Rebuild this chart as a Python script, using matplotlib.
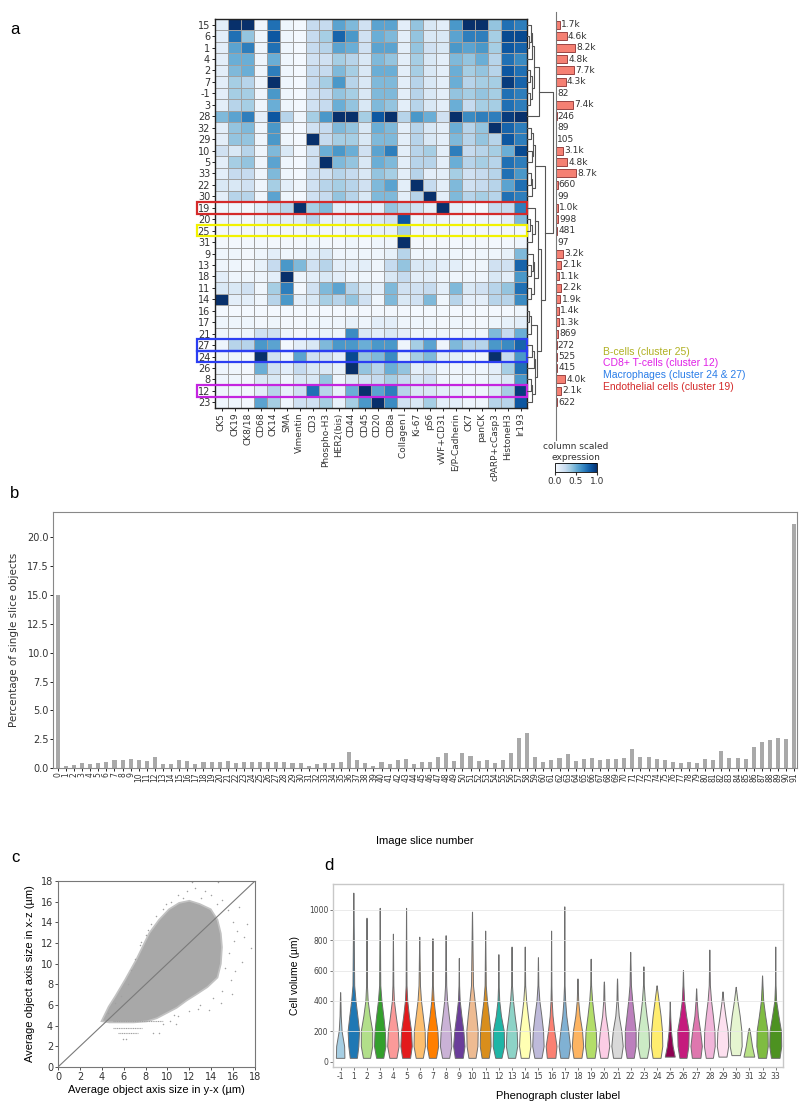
import numpy as np
import matplotlib.pyplot as plt
from matplotlib.patches import Rectangle
from matplotlib.colors import Normalize
import matplotlib.cm as cm

plt.rcParams['font.family'] = ['DejaVu Sans']

# ---------------- panel a : cluster x marker heatmap ----------------
row_labels = ['15', '6', '1', '4', '2', '7', '-1', '3', '28', '32', '29', '10', '5', '33', '22', '30',
              '19', '20', '25', '31', '9', '13', '18', '11', '14', '16', '17', '21', '27', '24', '26',
              '8', '12', '23']
markers = ['CK5', 'CK19', 'CK8/18', 'CD68', 'CK14', 'SMA', 'Vimentin', 'CD3', 'Phospho-H3',
           'HER2(bis)', 'CD44', 'CD45', 'CD20', 'CD8a', 'Collagen I', 'Ki-67', 'pS6', 'vWF+CD31',
           'E/P-Cadherin', 'CK7', 'panCK', 'cPARP+cCasp3', 'HistoneH3', 'Ir193']

expr = [
    [.10, 1.0, 1.0, .05, .75, .05, .02, .25, .25, .55, .45, .20, .55, .55, .10, .40, .15, .10, .60, 1.0, 1.0, .40, .75, .70],  # 15
    [.10, .75, .40, .05, .85, .05, .02, .25, .35, .80, .60, .20, .50, .45, .10, .40, .15, .15, .55, .70, .70, .35, .90, .90],  # 6
    [.10, .55, .70, .05, .75, .05, .02, .25, .30, .55, .50, .20, .55, .55, .10, .40, .20, .15, .60, .55, .60, .35, .85, .80],  # 1
    [.10, .50, .50, .05, .50, .05, .02, .20, .20, .35, .30, .15, .45, .40, .10, .35, .15, .10, .45, .40, .50, .30, .75, .65],  # 4
    [.10, .45, .50, .05, .70, .05, .02, .25, .25, .45, .35, .15, .50, .50, .10, .35, .15, .10, .50, .35, .40, .30, .85, .75],  # 2
    [.10, .35, .30, .05, 1.0, .05, .02, .25, .35, .60, .30, .15, .45, .45, .10, .30, .15, .10, .50, .30, .35, .35, .95, .80],  # 7
    [.10, .35, .35, .05, .60, .05, .02, .20, .25, .40, .35, .15, .45, .45, .10, .30, .15, .10, .40, .35, .40, .35, .75, .70],  # -1
    [.10, .30, .35, .05, .50, .05, .02, .20, .25, .50, .40, .15, .45, .40, .10, .30, .15, .10, .50, .25, .35, .35, .75, .70],  # 3
    [.45, .55, .70, .10, .85, .30, .05, .35, .60, 1.0, 1.0, .35, .85, 1.0, .30, .60, .50, .20, 1.0, .65, .70, .70, .95, 1.0],  # 28
    [.10, .40, .45, .05, .60, .05, .02, .20, .25, .45, .40, .15, .50, .45, .10, .30, .15, .10, .50, .30, .40, 1.0, .80, .70],  # 32
    [.10, .40, .40, .05, .60, .05, .02, 1.0, .25, .35, .35, .15, .45, .45, .10, .30, .15, .10, .45, .30, .40, .30, .85, .70],  # 29
    [.20, .15, .30, .05, .45, .15, .02, .20, .50, .60, .50, .20, .55, .70, .10, .30, .35, .10, .70, .25, .30, .35, .50, .90],  # 10
    [.10, .35, .40, .05, .55, .05, .02, .20, 1.0, .45, .40, .15, .50, .45, .10, .30, .30, .10, .50, .30, .35, .30, .75, .70],  # 5
    [.10, .25, .25, .05, .45, .05, .02, .20, .20, .30, .25, .15, .40, .35, .10, .30, .10, .10, .35, .20, .25, .30, .75, .60],  # 33
    [.15, .15, .20, .05, .35, .10, .05, .20, .30, .35, .30, .20, .45, .55, .10, 1.0, .25, .10, .45, .20, .25, .30, .55, .75],  # 22
    [.10, .30, .30, .05, .55, .05, .02, .20, .25, .40, .30, .15, .45, .45, .10, .30, 1.0, .10, .45, .30, .35, .30, .75, .70],  # 30
    [.05, .05, .03, .10, .25, .30, 1.0, .35, .45, .10, .10, .15, .10, .40, .30, .20, .10, 1.0, .10, .05, .03, .25, .25, .70],  # 19
    [.05, .05, .03, .08, .12, .10, .12, .30, .08, .10, .10, .10, .15, .20, .85, .05, .10, .05, .05, .03, .05, .05, .10, .45],  # 20
    [.03, .03, .03, .03, .03, .03, .03, .05, .03, .03, .05, .05, .08, .08, .35, .03, .03, .03, .03, .03, .03, .03, .03, .02],  # 25
    [.03, .03, .03, .03, .03, .03, .03, .05, .03, .03, .05, .03, .05, .05, 1.0, .03, .03, .03, .03, .03, .03, .03, .03, .05],  # 31
    [.05, .05, .03, .05, .10, .05, .05, .10, .15, .05, .05, .05, .05, .08, .30, .05, .05, .05, .05, .03, .05, .05, .08, .45],  # 9
    [.05, .05, .03, .08, .25, .60, .45, .20, .30, .10, .10, .10, .05, .25, .40, .15, .15, .10, .10, .05, .05, .20, .20, .80],  # 13
    [.10, .05, .05, .05, .10, 1.0, .05, .10, .15, .10, .05, .05, .03, .15, .25, .10, .10, .05, .05, .05, .05, .15, .10, .60],  # 18
    [.15, .15, .20, .05, .35, .70, .03, .20, .45, .55, .30, .15, .10, .45, .20, .20, .25, .10, .45, .15, .20, .30, .40, .75],  # 11
    [1.0, .10, .10, .05, .30, .60, .10, .15, .35, .30, .40, .20, .05, .45, .15, .20, .45, .05, .30, .10, .10, .30, .30, .65],  # 14
    [.02, .02, .02, .02, .02, .02, .02, .03, .02, .02, .03, .03, .03, .03, .03, .02, .02, .02, .02, .02, .02, .02, .02, .05],  # 16
    [.05, .05, .05, .03, .05, .03, .03, .05, .05, .05, .08, .05, .10, .10, .05, .05, .05, .03, .05, .03, .03, .05, .08, .10],  # 17
    [.05, .05, .05, .20, .20, .05, .03, .05, .08, .05, .65, .15, .10, .15, .10, .05, .05, .05, .05, .05, .05, .45, .25, .50],  # 21
    [.05, .30, .30, .60, .55, .03, .10, .15, .45, .60, .60, .50, .60, .60, .05, .35, .55, .05, .45, .30, .30, .60, .65, .80],  # 27
    [.05, .05, .03, 1.0, .20, .05, .55, .20, .20, .10, .90, .40, .45, .65, .10, .35, .45, .10, .10, .05, .05, 1.0, .25, .60],  # 24
    [.05, .05, .03, .50, .20, .10, .25, .15, .15, .08, 1.0, .40, .30, .50, .40, .10, .15, .05, .05, .05, .05, .10, .35, .75],  # 26
    [.05, .05, .03, .15, .15, .05, .15, .15, .40, .05, .15, .20, .25, .35, .25, .15, .20, .05, .05, .05, .05, .10, .15, .60],  # 8
    [.05, .05, .03, .10, .30, .08, .20, .75, .30, .08, .50, 1.0, .55, .70, .30, .15, .15, .10, .10, .05, .05, .15, .35, .95],  # 12
    [.05, .05, .03, .55, .35, .05, .20, .20, .35, .08, .35, .60, 1.0, .65, .20, .15, .35, .10, .10, .05, .05, .30, .30, .85],  # 23
]

cluster_counts = [1700, 4600, 8200, 4800, 7700, 4300, 82, 7400, 246, 89, 105, 3100, 4800, 8700, 660, 99,
                  1000, 998, 481, 97, 3200, 2100, 1100, 2200, 1900, 1400, 1300, 869, 272, 525, 415,
                  4000, 2100, 622]

# highlighted clusters: (row label, box colour)
highlight_rows = [('19', '#d42a2a'), ('25', '#f2f200'), ('27', '#2b3ef2'), ('24', '#2b3ef2'), ('12', '#c424e0')]
legend_items = [('B-cells (cluster 25)', '#b0b021'),
                ('CD8+ T-cells (cluster 12)', '#e020e6'),
                ('Macrophages (cluster 24 & 27)', '#2a7de8'),
                ('Endothelial cells (cluster 19)', '#d42a2a')]

# dendrogram as nested (left, right, height), leaves are row positions
top8 = (((0, (1, 2, .08), .14), 3, .20), ((4, 5, .12), (6, 7, .10), .18), .26)
grp_a = (top8, 8, .45)
grp_mid = (((9, 10, .15), (11, 12, .18), .24), ((13, 14, .14), 15, .20), .30)
g1 = (16, ((17, 18, .12), 19, .20), .30)
g2 = ((20, (21, 22, .15), .22), (23, 24, .14), .28)
g3 = ((25, 26, .06), 27, .16)
g4 = (((28, 29, .20), 30, .25), ((31, 32, .15), 33, .20), .30)
grp_low = ((g1, g2, .42), (g3, g4, .38), .55)
dendro = (grp_a, (grp_mid, grp_low, .70), 1.0)

# ---------------- panel b : single slice objects ----------------
slice_ids = list(range(92))
single_pct = [15.0, 0.15, 0.3, 0.4, 0.37, 0.4, 0.55, 0.72, 0.66, 0.77, 0.66, 0.64, 0.96, 0.37, 0.37, 0.72,
              0.58, 0.32, 0.5, 0.56, 0.5, 0.6, 0.42, 0.53, 0.48, 0.48, 0.5, 0.48, 0.48, 0.42, 0.45, 0.16,
              0.32, 0.4, 0.4, 0.56, 1.36, 0.66, 0.4, 0.16, 0.56, 0.35, 0.66, 0.77, 0.37, 0.56, 0.56, 0.98,
              1.31, 0.61, 1.26, 1.04, 0.61, 0.66, 0.42, 0.66, 1.34, 2.63, 3.07, 0.98, 0.56, 0.69, 0.85,
              1.2, 0.61, 0.8, 0.86, 0.72, 0.77, 0.77, 0.86, 1.65, 0.94, 0.94, 0.82, 0.69, 0.56, 0.4, 0.56,
              0.42, 0.82, 0.72, 1.47, 0.9, 0.9, 0.8, 1.8, 2.22, 2.4, 2.57, 2.53, 21.15]

# ---------------- panel c : axis size scatter ----------------
cloud_x = [4.1, 4.7, 5.3, 6.2, 7.2, 7.8, 8.4, 9.3, 10.2, 11.1, 12.0, 12.9, 13.9, 14.5, 14.8, 14.9,
           14.8, 14.5, 13.6, 12.6, 11.7, 10.8, 9.9, 9.0, 8.1, 6.9, 4.7]
cloud_y = [4.5, 5.8, 6.8, 8.4, 10.3, 11.6, 12.9, 14.2, 15.2, 15.8, 16.0, 15.7, 15.2, 14.2, 12.9, 11.6,
           10.0, 8.7, 7.8, 7.1, 6.5, 5.8, 5.3, 4.8, 4.5, 4.4, 4.4]
sparse_x = [7.0, 7.5, 8.0, 8.5, 9.0, 9.6, 10.3, 11.0, 11.8, 12.5, 13.4, 14.0, 12.2, 14.6, 15.0, 15.5,
            16.0, 16.4, 17.0, 17.6, 16.8, 16.2, 15.8, 15.0, 14.2, 13.0, 12.0, 11.0, 10.2, 9.6, 5.8,
            5.2, 4.6, 6.4, 15.6, 16.5, 17.3, 13.8, 10.8, 14.5, 5.9, 6.2, 8.7, 9.2, 15.3, 16.1, 13.1,
            11.4, 9.9, 8.2, 7.6, 6.7, 15.9, 14.9, 12.8, 10.6]
sparse_y = [10.5, 11.8, 12.8, 13.8, 14.6, 15.3, 16.0, 16.6, 17.0, 17.3, 17.0, 16.6, 17.9, 17.9, 16.2,
            15.2, 14.0, 13.2, 12.6, 11.5, 10.2, 9.3, 8.4, 7.4, 6.7, 6.0, 5.4, 4.9, 4.5, 4.2, 6.9,
            6.2, 5.2, 8.0, 11.0, 15.5, 13.8, 5.5, 4.2, 15.8, 2.7, 2.7, 3.3, 3.3, 9.6, 12.2, 16.4,
            16.4, 15.8, 13.3, 12.1, 9.4, 7.1, 6.2, 5.6, 5.0]
# horizontal streaks of small objects: (x start, x end, y)
streaks = [(5.0, 9.6, 4.5), (5.0, 7.7, 3.8), (5.5, 7.3, 3.3)]

# ---------------- panel d : cell volume per cluster ----------------
violin_labels = ['-1'] + [str(i) for i in range(1, 34)]
violin_colors = ['#a6cee3', '#1f78b4', '#b2df8a', '#33a02c', '#fb9a99', '#e31a1c', '#fdbf6f', '#ff7f00',
                 '#cab2d6', '#6a3d9a', '#eebb92', '#d98e1c', '#1fb5a6', '#8dd3c7', '#ffffb3', '#bebada',
                 '#fb8072', '#80b1d3', '#fdb462', '#b3de69', '#fccde5', '#d9d9d9', '#bc80bd', '#ccebc5',
                 '#ffed6f', '#8e0152', '#c51b7d', '#de77ae', '#f1b6da', '#fde0ef', '#e6f5d0', '#b8e186',
                 '#7fbc41', '#4d9221']
vol_min = [22, 22, 22, 22, 22, 22, 22, 22, 22, 22, 22, 22, 22, 22, 22, 22, 22, 22, 22, 22, 22, 22,
           22, 22, 22, 30, 22, 22, 22, 30, 40, 30, 22, 22]
vol_max = [455, 1110, 945, 1010, 840, 1010, 820, 810, 830, 680, 985, 860, 705, 755, 755, 685, 860, 1020,
           545, 675, 525, 545, 720, 625, 500, 395, 600, 480, 735, 460, 490, 220, 565, 755]
# half widths of each violin at its minimum and at 100, 200, 300, 400 and 500 um
width_levels = [100, 200, 300, 400, 500]
half_w = [
    [.30, .28, .10, .04, .02, .015],
    [.25, .35, .40, .28, .15, .06],
    [.25, .40, .40, .22, .08, .03],
    [.25, .40, .36, .25, .12, .04],
    [.25, .40, .35, .20, .07, .03],
    [.28, .40, .35, .20, .08, .03],
    [.25, .40, .38, .25, .12, .05],
    [.25, .40, .35, .20, .08, .03],
    [.25, .40, .35, .22, .10, .04],
    [.28, .40, .32, .18, .06, .02],
    [.25, .38, .40, .30, .18, .07],
    [.25, .38, .36, .25, .12, .04],
    [.22, .40, .38, .18, .06, .02],
    [.25, .40, .36, .22, .10, .03],
    [.28, .40, .35, .22, .10, .03],
    [.25, .40, .36, .24, .10, .03],
    [.30, .38, .22, .10, .04, .02],
    [.28, .40, .28, .14, .06, .02],
    [.28, .40, .32, .15, .05, .02],
    [.28, .40, .36, .22, .10, .03],
    [.25, .38, .28, .12, .04, .02],
    [.28, .40, .30, .12, .04, .02],
    [.25, .38, .38, .26, .14, .05],
    [.25, .40, .36, .22, .10, .03],
    [.28, .40, .38, .28, .14, .02],
    [.35, .20, .08, .03, .015, .01],
    [.25, .38, .40, .22, .08, .03],
    [.30, .40, .28, .12, .04, .02],
    [.25, .38, .36, .25, .12, .04],
    [.28, .40, .36, .20, .06, .02],
    [.30, .42, .40, .28, .12, .02],
    [.38, .22, .06, .02, .01, .01],
    [.28, .40, .38, .22, .08, .03],
    [.30, .42, .40, .22, .06, .02],
]


def draw_tree(ax, node):
    if isinstance(node, int):
        return 0.0, node
    left, right, h = node
    x1, y1 = draw_tree(ax, left)
    x2, y2 = draw_tree(ax, right)
    ax.plot([x1, h, h, x2], [y1, y1, y2, y2], color='#555555', lw=0.8, clip_on=False)
    return h, (y1 + y2) / 2.0


def k_label(v):
    if v >= 1000:
        return '{:.1f}k'.format(v / 1000.0)
    return str(v)


fig = plt.figure(figsize=(8.0, 11.13), dpi=100)
W, H = 800.0, 1113.0


def add_ax(x0, y0, x1, y1):
    # pixel box (top-left origin) -> figure axes
    return fig.add_axes([x0 / W, 1 - y1 / H, (x1 - x0) / W, (y1 - y0) / H])


# ---- heatmap
n_rows, n_cols = len(row_labels), len(markers)
ax_hm = add_ax(215, 19, 527, 408)
data = np.array(expr)
ax_hm.pcolormesh(np.arange(n_cols + 1) - 0.5, np.arange(n_rows + 1) - 0.5, data, cmap='Blues',
                 vmin=0, vmax=1, edgecolors='#a0a0a0', linewidth=0.5)
ax_hm.set_xlim(-0.5, n_cols - 0.5)
ax_hm.set_ylim(n_rows - 0.5, -0.5)
ax_hm.set_yticks(range(n_rows))
ax_hm.set_yticklabels(row_labels, fontsize=7, color='#333333')
ax_hm.set_xticks(range(n_cols))
ax_hm.set_xticklabels(markers, rotation=90, fontsize=6.5, color='#333333')
ax_hm.tick_params(length=2, width=0.6, pad=1.5)
for s in ax_hm.spines.values():
    s.set_color('#222222')
    s.set_linewidth(1.0)

for lab, col in highlight_rows:
    r = row_labels.index(lab)
    ax_hm.add_patch(Rectangle((-1.85, r - 0.5), n_cols - 0.5 + 1.85, 1.0, fill=False, edgecolor=col,
                              lw=1.6, clip_on=False, zorder=5))

# ---- dendrogram
ax_dd = add_ax(527, 19, 553, 408)
draw_tree(ax_dd, dendro)
ax_dd.set_xlim(0, 1.0)
ax_dd.set_ylim(n_rows - 0.5, -0.5)
ax_dd.axis('off')

# ---- cluster sizes
px_row = (408 - 19) / n_rows
ax_bar = add_ax(556, 12, 621, 440)
ax_bar.barh(range(n_rows), cluster_counts, height=0.7, color='#f58073', edgecolor='#8a3030', lw=0.6)
ax_bar.set_ylim(n_rows - 0.5 + (440 - 408) / px_row, -0.5 - (19 - 12) / px_row)
ax_bar.set_xlim(0, 8700 * 65 / 20.0)
for i, v in enumerate(cluster_counts):
    ax_bar.text(v + 500, i, k_label(v), va='center', ha='left', fontsize=6.5, color='#333333')
for s in ['top', 'right', 'bottom']:
    ax_bar.spines[s].set_visible(False)
ax_bar.spines['left'].set_color('#777777')
ax_bar.set_xticks([])
ax_bar.set_yticks([])
ax_bar.patch.set_alpha(0)

# ---- colourbar
ax_cb = add_ax(555, 463, 597, 472)
cb = fig.colorbar(cm.ScalarMappable(norm=Normalize(0, 1), cmap='Blues'), cax=ax_cb, orientation='horizontal')
cb.set_ticks([0.0, 0.5, 1.0])
cb.ax.tick_params(labelsize=6.5, length=2, pad=1.5, colors='#333333')
cb.outline.set_linewidth(0.6)
fig.text(576 / W, 1 - 452 / H, 'column scaled\nexpression', ha='center', va='center', fontsize=6.5,
         color='#333333', linespacing=1.2)

for k, (txt, col) in enumerate(legend_items):
    fig.text(603 / W, 1 - (352 + 11.5 * k) / H, txt, ha='left', va='center', fontsize=7.5, color=col,
             family=['Liberation Sans', 'DejaVu Sans'])

# ---- panel b
ax_b = add_ax(53, 512, 797, 768)
ax_b.bar(slice_ids, single_pct, width=0.5, color='#a9a9a9')
ax_b.set_xlim(-0.6, 91.35)
ax_b.set_ylim(0, 22.2)
ax_b.set_xticks(slice_ids)
ax_b.set_xticklabels([str(i) for i in slice_ids], rotation=90, fontsize=5.5, color='#333333',
                     family=['Liberation Sans Narrow', 'DejaVu Sans'])
ax_b.set_yticks(np.arange(0, 21, 2.5))
ax_b.set_yticklabels(['{:.1f}'.format(t) for t in np.arange(0, 21, 2.5)], fontsize=7, color='#333333',
                     family=['Liberation Sans Narrow', 'DejaVu Sans'])
ax_b.tick_params(length=2, width=0.6, pad=1)
ax_b.set_ylabel('Percentage of single slice objects', fontsize=7.5, color='#333333', labelpad=6)
ax_b.set_xlabel('Image slice number', fontsize=8, labelpad=39, family=['Liberation Sans', 'DejaVu Sans'])
for s in ax_b.spines.values():
    s.set_color('#888888')
    s.set_linewidth(0.8)

# ---- panel c
ax_c = add_ax(58, 881, 255, 1067)
ax_c.fill(cloud_x, cloud_y, color='#a8a8a8', lw=2.5, ec='#c2c2c2', zorder=1)
ax_c.fill(cloud_x, cloud_y, color='#a8a8a8', lw=0, zorder=1)
ax_c.scatter(sparse_x, sparse_y, s=1.2, color='#a0a0a0', lw=0, zorder=1)
for x0, x1, y in streaks:
    ax_c.plot([x0, x1], [y, y], color='#a0a0a0', lw=0.8, ls=(0, (1, 0.6)), zorder=1)
ax_c.plot([0, 18], [0, 18], color='#7a7a7a', lw=0.8, zorder=2)
ax_c.set_xlim(0, 18)
ax_c.set_ylim(0, 18)
ax_c.set_xticks(range(0, 19, 2))
ax_c.set_yticks(range(0, 19, 2))
ax_c.tick_params(labelsize=7, length=2, width=0.6, pad=1.5, colors='#333333')
for lab in ax_c.get_xticklabels() + ax_c.get_yticklabels():
    lab.set_family(['Liberation Sans Narrow', 'DejaVu Sans'])
ax_c.set_xlabel('Average object axis size in y-x (µm)', fontsize=8, labelpad=2,
                family=['Liberation Sans', 'DejaVu Sans'])
ax_c.set_ylabel('Average object axis size in x-z (µm)', fontsize=8, labelpad=4,
                family=['Liberation Sans', 'DejaVu Sans'])
for s in ax_c.spines.values():
    s.set_color('#777777')
    s.set_linewidth(0.8)

# ---- panel d
ax_d = add_ax(333, 884, 783, 1067)
for i in range(len(violin_labels)):
    levels = [vol_min[i]] + [l for l in width_levels if l < vol_max[i]]
    widths = half_w[i][:len(levels)]
    ys = levels + [vol_max[i]]
    ws = widths + [0.004]
    xs_right = [i + w * 1.08 for w in ws]
    xs_left = [i - w * 1.08 for w in ws]
    ax_d.fill(xs_right + xs_left[::-1], ys + ys[::-1], color=violin_colors[i], ec='#6e6e6e', lw=0.7,
              zorder=2)
ax_d.set_xlim(-0.58, 33.55)
ax_d.set_ylim(-35, 1170)
ax_d.set_xticks(range(len(violin_labels)))
ax_d.set_xticklabels(violin_labels, fontsize=5.5, color='#444444')
ax_d.set_yticks(range(0, 1001, 200))
ax_d.tick_params(labelsize=5.5, length=2, width=0.5, pad=1.5, colors='#444444')
for y in range(200, 1001, 200):
    ax_d.axhline(y, color='#e6e6e6', lw=0.7, zorder=3, alpha=0.8)
ax_d.set_xlabel('Phenograph cluster label', fontsize=8, labelpad=7, family=['Liberation Sans', 'DejaVu Sans'])
ax_d.set_ylabel('Cell volume (µm)', fontsize=7.5, labelpad=6, family=['Liberation Sans', 'DejaVu Sans'])
for s in ax_d.spines.values():
    s.set_color('#c8c8c8')
    s.set_linewidth(1.0)

# ---- panel letters
for txt, x, y in [('a', 15, 30), ('b', 15, 493), ('c', 15, 857), ('d', 329, 866)]:
    fig.text(x / W, 1 - y / H, txt, fontsize=12, ha='center', va='center',
             family=['Liberation Sans', 'DejaVu Sans'])

fig.savefig('out.png', dpi=100)
